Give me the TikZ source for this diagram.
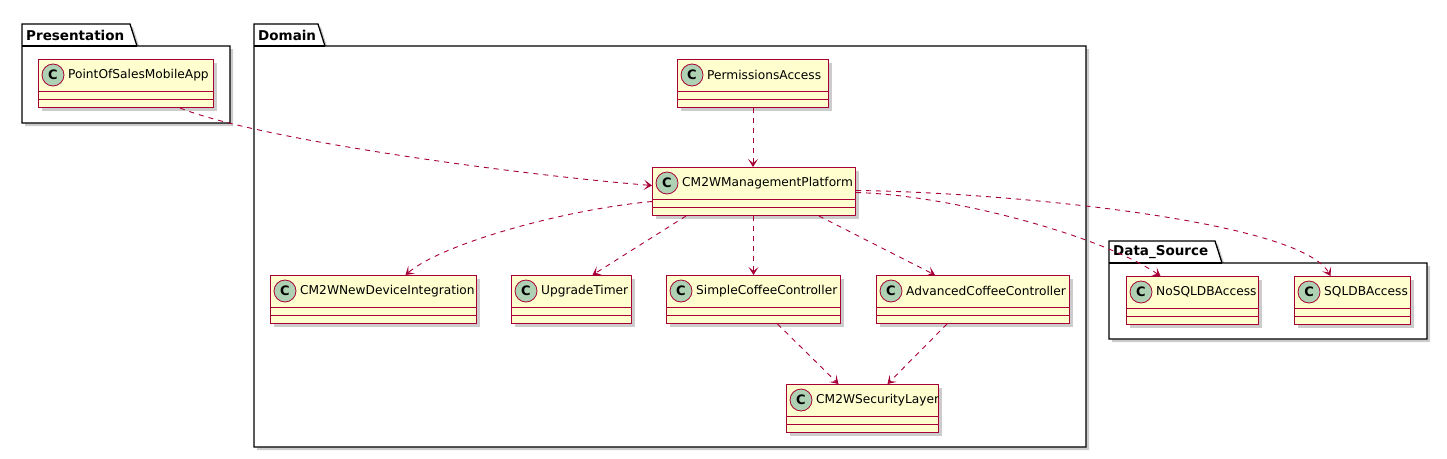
\documentclass[tikz,border=0pt]{standalone}
\usepackage{fontspec}
\setmainfont{DejaVu Sans}
\usepackage{tikz}
\usetikzlibrary{arrows.meta,shadows}
\definecolor{umlred}{HTML}{A80036}
\definecolor{classfill}{HTML}{FEFECE}
\definecolor{iconfill}{HTML}{ADD1B2}

\tikzset{
    classbox/.style={draw=umlred, fill=classfill, line width=1pt, inner sep=0pt,
        minimum height=48pt,
        drop shadow={shadow xshift=3pt, shadow yshift=-3pt, opacity=0.4}},
    pkgbox/.style={draw=black, fill=white, line width=1.3pt,
        drop shadow={shadow xshift=3pt, shadow yshift=-3pt, opacity=0.4}},
    depends/.style={umlred, line width=0.9pt, dash pattern=on 5pt off 5pt,
        -{Stealth[length=8pt, width=10pt, inset=4pt]}}
}

\newcommand{\drawpackage}[7]{
    % package body with its tab on top: #1 name, #2 label, (#3,#4)-(#5,#6), #7 tab end
    \filldraw[pkgbox] (#3,#4) -- (#7,#4) -- ({#7+7},{#4+22}) -- (#5,{#4+22})
        -- (#5,#6) -- (#3,#6) -- cycle;
    \draw[line width=1.3pt] (#3,{#4+22}) -- ({#7+7},{#4+22});
    \node[anchor=west, inner sep=0pt, font=\bfseries\fontsize{13.5}{16}\selectfont]
        (#1) at ({#3+4},{#4+11}) {#2};
}

\newcommand{\drawclass}[5]{
    % class box: #1 name, #2 label, #3 left, #4 top, #5 width
    \node[classbox, minimum width=#5pt, anchor=north west] (#1) at (#3,#4) {};
    \draw[umlred] ([yshift=-32pt]#1.north west) -- ([yshift=-32pt]#1.north east);
    \draw[umlred] ([yshift=-40pt]#1.north west) -- ([yshift=-40pt]#1.north east);

    % the C circle and the class name
    \filldraw[fill=iconfill, draw=umlred, line width=0.8pt]
        ([xshift=15pt,yshift=-16pt]#1.north west) circle (11pt);
    \node[font=\bfseries\fontsize{13}{15}\selectfont, inner sep=0pt] (#1-icon)
        at ([xshift=15pt,yshift=-16pt]#1.north west) {C};
    \node[anchor=west, inner sep=0pt, font=\fontsize{12.2}{14}\selectfont] (#1-name)
        at ([xshift=30pt,yshift=-16pt]#1.north west) {#2};
}

\begin{document}
\begin{tikzpicture}[x=1pt, y=-1pt]
    \useasboundingbox (0,0) rectangle (1447,458);

    % the three packages
    \drawpackage{presentation}{Presentation}{22}{24}{230}{123}{130}
    \drawpackage{domain}{Domain}{254}{24}{1086}{447}{318}
    \drawpackage{datasource}{Data\_Source}{1109}{241}{1427}{339}{1215}

    % Presentation
    \drawclass{pos}{PointOfSalesMobileApp}{38}{59}{175}

    % Domain
    \drawclass{perm}{PermissionsAccess}{677}{59}{151}
    \drawclass{cm2w}{CM2WManagementPlatform}{652}{167}{203}
    \drawclass{newdev}{CM2WNewDeviceIntegration}{270}{275}{206}
    \drawclass{timer}{UpgradeTimer}{511}{275}{120}
    \drawclass{simple}{SimpleCoffeeController}{666}{275}{174}
    \drawclass{advanced}{AdvancedCoffeeController}{876}{275}{193}
    \drawclass{security}{CM2WSecurityLayer}{786}{384}{152}

    % Data_Source
    \drawclass{nosql}{NoSQLDBAccess}{1126}{276}{132}
    \drawclass{sql}{SQLDBAccess}{1294}{276}{116}

    % Draw the dependencies
    \draw[depends] ([xshift=54pt]pos.south) .. controls (260,140) and (520,175)
        .. ([yshift=6pt]cm2w.west);
    \draw[depends] (perm.south) -- (perm.south |- cm2w.north);
    \draw[depends] ([yshift=-10pt]cm2w.west) .. controls (560,210) and (440,245)
        .. ([xshift=32pt]newdev.north);
    \draw[depends] ([xshift=-68pt]cm2w.south) -- ([xshift=21pt]timer.north);
    \draw[depends] (simple.north |- cm2w.south) -- (simple.north);
    \draw[depends] ([xshift=65pt]cm2w.south) -- ([xshift=-38pt]advanced.north);
    \draw[depends] ([xshift=24pt]simple.south) -- ([xshift=-24pt]security.north);
    \draw[depends] ([xshift=-26pt]advanced.south) -- ([xshift=25pt]security.north);
    \draw[depends] ([yshift=-1pt]cm2w.east) .. controls (950,195) and (1100,235)
        .. ([xshift=-32pt]nosql.north);
    \draw[depends] ([yshift=1pt]cm2w.east) .. controls (1000,192) and (1300,220)
        .. ([xshift=-22pt]sql.north);
\end{tikzpicture}
\end{document}
